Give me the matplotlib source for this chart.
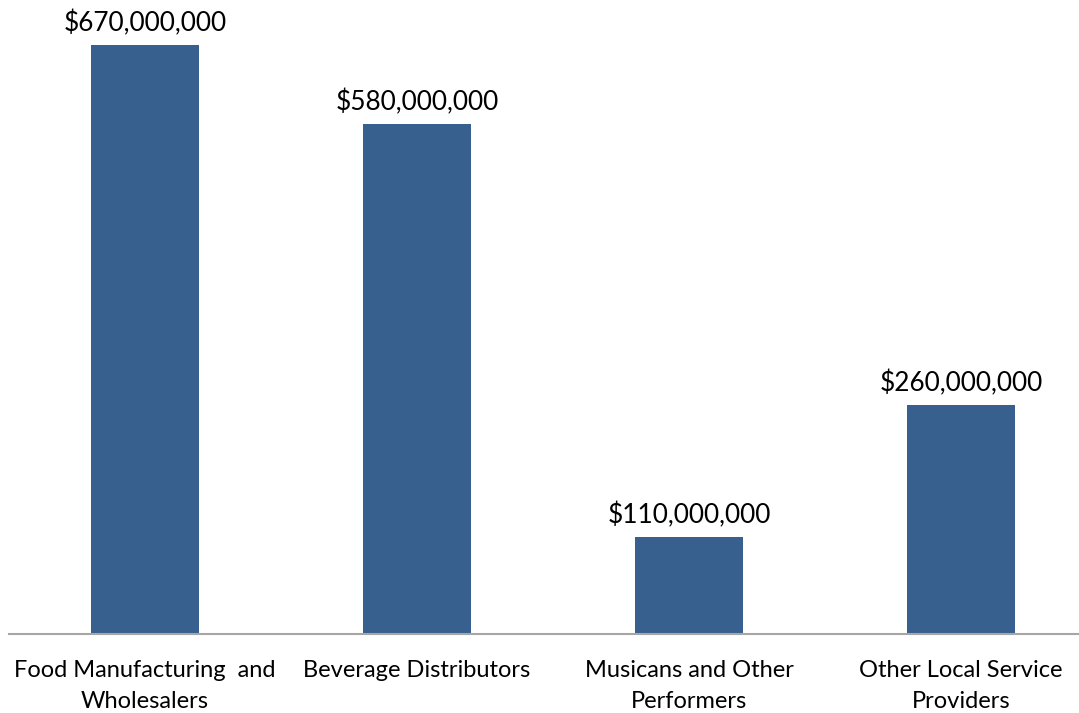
import matplotlib
matplotlib.use("Agg")
import matplotlib.pyplot as plt

categories = ["Food Manufacturing  and\nWholesalers", "Beverage Distributors",
              "Musicans and Other\nPerformers", "Other Local Service\nProviders"]
values = [670_000_000, 580_000_000, 110_000_000, 260_000_000]
value_labels = ["$670,000,000", "$580,000,000", "$110,000,000", "$260,000,000"]

bar_color = "#37608F"
W, H = 1079, 713
fig = plt.figure(figsize=(W / 100, H / 100), dpi=100)
plt.rcParams["font.family"] = ["Lato", "DejaVu Sans"]

left_px, right_px = 9, 1097
base_px, top_px = 634, 18.6
ax = fig.add_axes([left_px / W, 1 - base_px / H, (right_px - left_px) / W, (base_px - top_px) / H])
ax.set_ylim(0, 700_000_000)
ax.set_xlim(-0.5, len(categories) - 0.5)

x = list(range(len(categories)))
ax.bar(x, values, width=108 / 272, color=bar_color, zorder=2)
for xi, v, lab in zip(x, values, value_labels):
    ax.annotate(lab, (xi, v), xytext=(0, 6.5), textcoords="offset points",
                ha="center", va="bottom", fontsize=18.9, color="black")

ax.set_xticks(x)
ax.set_xticklabels(categories, fontsize=17, linespacing=1.55)
ax.tick_params(axis="x", length=0, pad=19)
ax.set_yticks([])
for s in ["top", "right", "left"]:
    ax.spines[s].set_visible(False)
ax.spines["bottom"].set_color("#A6A6A6")
ax.spines["bottom"].set_linewidth(1.5)

fig.savefig("out.png", dpi=100)
